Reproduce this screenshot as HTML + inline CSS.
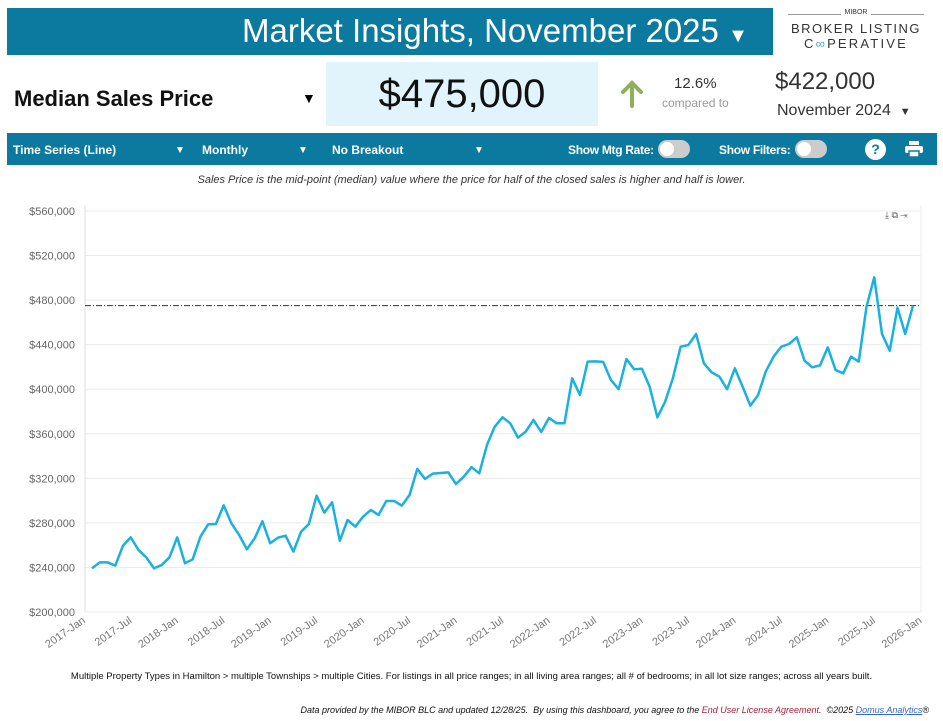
<!DOCTYPE html>
<html><head><meta charset="utf-8"><style>
body{margin:0;width:943px;height:721px;background:#fff;font-family:"Liberation Sans",sans-serif;position:relative;overflow:hidden}
.abs{position:absolute}
.tb{color:#fff;font-size:12px;font-weight:bold;top:143px;white-space:nowrap}
.tog{position:absolute;top:140px;width:32px;height:18px;border-radius:9px;background:#ccc}
.tog::after{content:"";position:absolute;left:2px;top:2px;width:14px;height:14px;border-radius:7px;background:#fff}
</style></head><body>
<div class="abs" style="left:7px;top:8px;width:766px;height:47px;background:#0b7a9e"></div>
<div class="abs" style="left:242px;top:12px;color:#fff;font-size:33px;white-space:nowrap">Market Insights, November 2025 <span style="font-size:20px">▼</span></div>
<div class="abs" style="left:788px;top:10px;width:136px;text-align:center;color:#333;white-space:nowrap">
 <div style="font-size:7px;border-bottom:1px solid #999;line-height:6px;height:4px;margin-bottom:6px"><span style="background:#fff;padding:0 4px">MIBOR</span></div>
 <div style="font-size:13px;letter-spacing:1.5px;line-height:15px">BROKER LISTING</div>
 <div style="font-size:13px;letter-spacing:2.2px;line-height:16px">C<span style="color:#4a9fd0">∞</span>PERATIVE</div>
</div>
<div class="abs" style="left:14px;top:86px;font-size:22px;font-weight:bold;color:#111">Median Sales Price</div>
<div class="abs" style="left:302px;top:90px;font-size:14px">▼</div>
<div class="abs" style="left:326px;top:62px;width:272px;height:64px;background:#e1f4fb;text-align:center;line-height:64px;font-size:40px;color:#111">$475,000</div>
<svg class="abs" style="left:620px;top:80px" width="24" height="28"><path d="M12 26V3M3 12L12 3L21 12" stroke="#8db05a" stroke-width="4" fill="none" stroke-linecap="round"/></svg>
<div class="abs" style="left:674px;top:75px;font-size:15px;color:#333">12.6%</div>
<div class="abs" style="left:662px;top:96px;font-size:12px;color:#999">compared to</div>
<div class="abs" style="left:775px;top:68px;font-size:24px;color:#333">$422,000</div>
<div class="abs" style="left:777px;top:102px;font-size:16px;color:#333">November 2024 &nbsp;<span style="font-size:11px">▼</span></div>
<div class="abs" style="left:7px;top:133px;width:930px;height:32px;background:#0b7a9e"></div>
<div class="abs tb" style="left:13px">Time Series (Line)</div>
<div class="abs tb" style="left:175px;font-size:10px;top:145px">▼</div>
<div class="abs tb" style="left:202px">Monthly</div>
<div class="abs tb" style="left:298px;font-size:10px;top:145px">▼</div>
<div class="abs tb" style="left:332px">No Breakout</div>
<div class="abs tb" style="left:474px;font-size:10px;top:145px">▼</div>
<div class="abs tb" style="left:568px;letter-spacing:-0.3px">Show Mtg Rate:</div>
<div class="tog" style="left:658px"></div>
<div class="abs tb" style="left:719px;letter-spacing:-0.3px">Show Filters:</div>
<div class="tog" style="left:795px"></div>
<div class="abs" style="left:865px;top:139px;width:21px;height:21px;border-radius:11px;background:#fff;color:#0b7a9e;font-weight:bold;font-size:14px;text-align:center;line-height:21px">?</div>
<svg class="abs" style="left:905px;top:141px" width="18" height="17"><rect x="4" y="0" width="10" height="4" fill="#fff"/><rect x="0" y="5" width="18" height="7" rx="2" fill="#fff"/><rect x="4" y="10" width="10" height="6" fill="#fff" stroke="#0b7a9e" stroke-width="1.5"/></svg>
<div class="abs" style="left:0;width:943px;top:174px;text-align:center;font-size:11px;font-style:italic;color:#333">Sales Price is the mid-point (median) value where the price for half of the closed sales is higher and half is lower.</div>
<div class="abs" style="left:885px;top:210px;font-size:9px;color:#555">⤓ ⧉ ⇥</div>
<svg class="abs" style="left:0;top:0" width="943" height="721" id="chart"></svg>
<div class="abs" style="left:0;width:943px;top:671px;text-align:center;font-size:9.5px;color:#111">Multiple Property Types in Hamilton &gt; multiple Townships &gt; multiple Cities. For listings in all price ranges; in all living area ranges; all # of bedrooms; in all lot size ranges; across all years built.</div>
<div class="abs" style="right:14px;top:705px;font-size:9px;font-style:italic;color:#111">Data provided by the MIBOR BLC and updated 12/28/25. &nbsp;By using this dashboard, you agree to the <span style="color:#a0243a">End User License Agreement</span>. &nbsp;©2025 <span style="color:#3366cc;text-decoration:underline">Domus Analytics</span>®</div>
<script>
const values=[239.2,244.6,244.6,241.6,259.5,267,255.7,249.1,239.2,242.2,249.1,267,243.7,247.3,267.6,278.7,279,295.8,279.6,269.1,256.3,266.1,281.5,261.7,266.7,268.5,254.2,272.1,279,304.4,289.2,298.5,264,282.6,276.6,285.6,291.6,287.1,
299.7,299.7,295.5,305,328.4,319.4,324.2,324.8,325.4,314.9,321.5,330,324.5,350,366.4,374.8,369.4,356.5,361.9,372.4,361.6,374.2,369.4,369.4,409.8,394.8,424.8,425,424.5,408.3,400,427.1,417.9,418.4,
402.3,374.8,388.8,409.8,438.2,439.7,449.6,423.3,415.2,411.3,400,418.8,402.3,385.2,394.8,416,429.2,438.2,440.6,446.6,425.6,419.7,421.4,437.6,417.3,414.3,429.2,424.8,474.1,500.5,449.6,434.6,473.2,449.6,475];
const yTicks=[200,240,280,320,360,400,440,480,520,560];
const xLabels=["2017-Jan","2017-Jul","2018-Jan","2018-Jul","2019-Jan","2019-Jul","2020-Jan","2020-Jul","2021-Jan","2021-Jul","2022-Jan","2022-Jul","2023-Jan","2023-Jul","2024-Jan","2024-Jul","2025-Jan","2025-Jul","2026-Jan"];
const refValue=475;
const svg=document.getElementById('chart');const NS='http://www.w3.org/2000/svg';
const X=i=>92+i*7.745, Y=v=>612-(v-200)*401/360;
function mk(t,a){const e=document.createElementNS(NS,t);for(const k in a)e.setAttribute(k,a[k]);svg.appendChild(e);return e;}
yTicks.forEach(v=>{const g=mk('line',{x1:85,x2:921,y1:Y(v),y2:Y(v),stroke:'#ececec'});


const t=mk('text',{x:75,y:Y(v)+4,'text-anchor':'end','font-size':11,fill:'#666','font-family':'Liberation Sans'});t.textContent='$'+v+',000';

});
const ax=mk('line',{x1:85,x2:85,y1:205,y2:612,stroke:'#ddd'});


const rb=mk('line',{x1:921,x2:921,y1:205,y2:612,stroke:'#eee'});


xLabels.forEach((l,k)=>{const x=X(k*6)-6,y=622;const t=mk('text',{x:x,y:y,'text-anchor':'end','font-size':11,fill:'#777','font-family':'Liberation Sans',transform:`rotate(-35 ${x} ${y})`});t.textContent=l;

});
const rl=mk('line',{x1:85,x2:921,y1:Y(refValue),y2:Y(refValue),stroke:'#333','stroke-dasharray':'6 2 1 2'});


const p=mk('polyline',{points:values.map((v,i)=>X(i)+','+Y(v)).join(' '),fill:'none',stroke:'#1ab0e0','stroke-width':2.5,'stroke-linejoin':'round'});


</script>
</body></html>
